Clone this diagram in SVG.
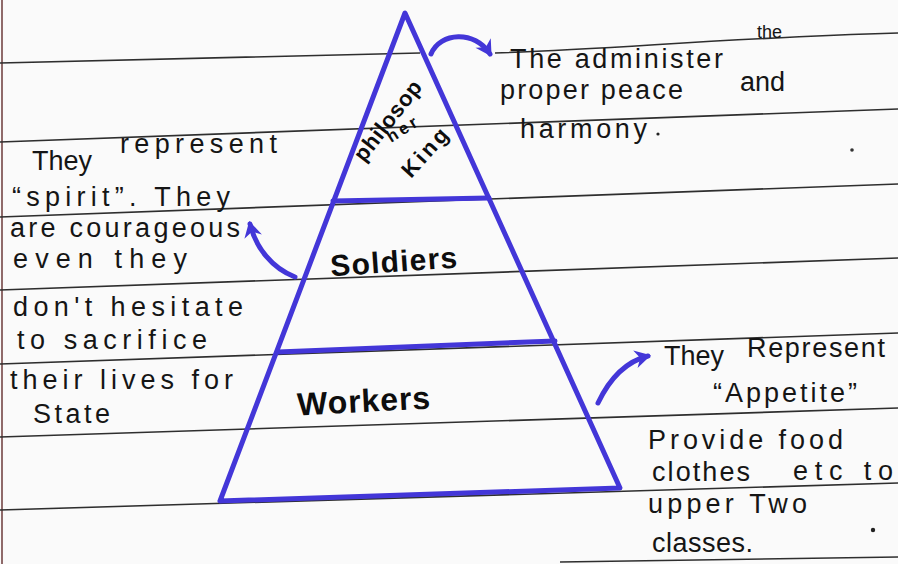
<svg xmlns="http://www.w3.org/2000/svg" width="898" height="564" viewBox="0 0 898 564">
<defs>
<style>
.rule{stroke:#2e2e2e;stroke-width:1.6;fill:none}
.tri{stroke:#4336d8;stroke-width:5;fill:none;stroke-linejoin:round;stroke-linecap:round}
.conn{stroke:#4336d8;stroke-width:5;fill:none;stroke-linecap:round}
.note{font-family:"Liberation Sans","DejaVu Sans",sans-serif;font-size:27px;fill:#151515}
.small{font-size:18px}
.lbl{font-family:"Liberation Sans","DejaVu Sans",sans-serif;font-weight:bold;fill:#0d0d0d}
</style>
<marker id="ah" markerUnits="userSpaceOnUse" markerWidth="24" markerHeight="24" refX="14" refY="11" orient="auto">
<path d="M1,2 L17,11 L1,20 L6,11 Z" fill="#4336d8"/>
</marker>
</defs>
<rect x="0" y="0" width="898" height="564" fill="#fafafa"/>
<g id="paper">
<line x1="2" y1="0" x2="2" y2="564" stroke="#6b3a3a" stroke-width="1.5"/>
<path class="rule" d="M0,63 L420,53 M495,53 C620,49 720,38 898,33"/>
<line class="rule" x1="0" y1="142" x2="898" y2="109"/>
<line class="rule" x1="0" y1="217" x2="898" y2="184"/>
<line class="rule" x1="0" y1="290" x2="898" y2="258"/>
<line class="rule" x1="0" y1="364" x2="898" y2="333"/>
<line class="rule" x1="0" y1="437" x2="898" y2="408"/>
<line class="rule" x1="0" y1="510" x2="898" y2="483"/>
<line class="rule" x1="560" y1="562" x2="898" y2="557"/>
<circle cx="873" cy="530" r="2.2" fill="#222"/>
<circle cx="852" cy="150" r="1.8" fill="#333"/>
</g>
<g id="pyramid">
<path class="tri" d="M405,13 L220,501 L620,488 Z"/>
</g>
<g id="philosopher-king">
<line class="tri" x1="333" y1="201" x2="489" y2="198"/>
<text class="lbl" font-size="22" transform="translate(364,163) rotate(-52)" textLength="96">philosop</text>
<text class="lbl" font-size="17" transform="translate(391,143) rotate(-32)" textLength="33">her</text>
<text class="lbl" font-size="22" transform="translate(411,179) rotate(-48)" textLength="58">King</text>
</g>
<g id="soldiers">
<line class="tri" x1="278" y1="352" x2="555" y2="341"/>
<text class="lbl" font-size="30" x="330" y="272" transform="rotate(-4 393 260)" textLength="127">Soldiers</text>
</g>
<g id="workers">
<text class="lbl" font-size="32" x="297" y="412" transform="rotate(-3 363 400)" textLength="133">Workers</text>
</g>
<g id="note-philosopher">
<text class="note"><tspan x="510" y="68" textLength="213">The administer</tspan><tspan class="small" x="757" y="38">the</tspan></text>
<text class="note"><tspan x="500" y="99" textLength="183">proper peace</tspan><tspan x="740" y="91">and</tspan></text>
<text class="note" x="520" y="138" textLength="127">harmony</text>
<circle cx="658" cy="134" r="1.6" fill="#222"/>
</g>
<g id="note-soldiers">
<text class="note"><tspan x="32" y="170">They</tspan><tspan x="120" y="153" textLength="157">represent</tspan></text>
<text class="note" x="12" y="206" textLength="218">“spirit”. They</text>
<text class="note" x="10" y="237" textLength="230">are courageous</text>
<text class="note" x="13" y="268" textLength="174">even they</text>
<text class="note" x="13" y="316" textLength="230">don't hesitate</text>
<text class="note" x="17" y="349" textLength="190">to sacrifice</text>
<text class="note" x="10" y="389" textLength="223">their lives for</text>
<text class="note" x="33" y="423" textLength="77">State</text>
</g>
<g id="note-workers">
<text class="note"><tspan x="664" y="365">They</tspan><tspan x="747" y="357" textLength="138">Represent</tspan></text>
<text class="note" x="713" y="402" textLength="144">“Appetite”</text>
<text class="note" x="648" y="449" textLength="195">Provide food</text>
<text class="note"><tspan x="652" y="481" textLength="98">clothes</tspan><tspan x="793" y="480" textLength="100">etc to</tspan></text>
<text class="note" x="648" y="513" textLength="159">upper Two</text>
<text class="note" x="652" y="552" textLength="101">classes.</text>
</g>
<g id="connectors">
<path class="conn" d="M431,54 C440,32 475,30 490,54" marker-end="url(#ah)"/>
<path class="conn" d="M295,277 C272,268 256,248 250,224" marker-end="url(#ah)"/>
<path class="conn" d="M598,403 C608,382 624,362 648,356" marker-end="url(#ah)"/>
</g>
</svg>
